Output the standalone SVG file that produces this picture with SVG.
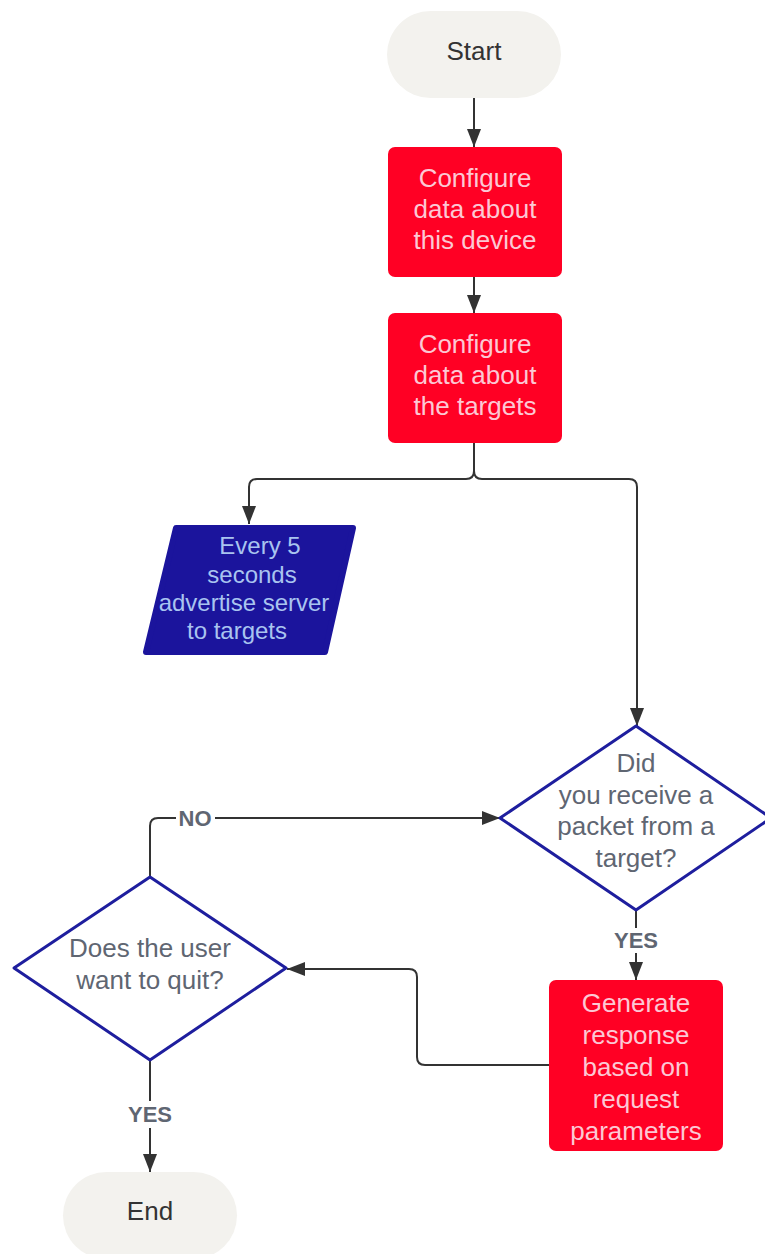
<svg xmlns="http://www.w3.org/2000/svg" width="765" height="1254" viewBox="0 0 765 1254">
<defs>
<style>
text{font-family:"Liberation Sans",Arial,sans-serif;text-anchor:middle}
.term{fill:#f3f2ee}
.termt{font-size:26px;fill:#333333}
.proc{fill:#ff0024}
.proct{font-size:26px;fill:#fcc8d4}
.io{fill:#1b149c;stroke:#1b149c;stroke-width:6;stroke-linejoin:round}
.iot{font-size:24px;fill:#a9c4f0}
.dec{fill:#ffffff;stroke:#1e1e9e;stroke-width:3;stroke-linejoin:round}
.dect{font-size:26px;fill:#5f6672}
.lbl{font-size:22px;font-weight:bold;fill:#5f6672}
.conn{fill:none;stroke:#333333;stroke-width:2}
</style>
<marker id="arr" viewBox="0 0 18 14" refX="18" refY="7" markerWidth="18" markerHeight="14" markerUnits="userSpaceOnUse" orient="auto">
<path d="M0,0 L18,7 L0,14 z" fill="#333333"/>
</marker>
</defs>
<g id="connectors">
<path class="conn" d="M474,98 V147" marker-end="url(#arr)"/>
<path class="conn" d="M474,277 V313" marker-end="url(#arr)"/>
<path class="conn" d="M474,443 V471 Q474,479 466,479 H257 Q249,479 249,487 V524" marker-end="url(#arr)"/>
<path class="conn" d="M474,471 Q474,479 482,479 H629 Q637,479 637,487 V726" marker-end="url(#arr)"/>
<path class="conn" d="M636,910 V928"/>
<path class="conn" d="M636,953 V980" marker-end="url(#arr)"/>
<path class="conn" d="M549,1065 H425 Q417,1065 417,1057 V977 Q417,969 409,969 H287" marker-end="url(#arr)"/>
<path class="conn" d="M150,877 V826 Q150,818 158,818 H176"/>
<path class="conn" d="M215,818 H500" marker-end="url(#arr)"/>
<path class="conn" d="M150,1060 V1101"/>
<path class="conn" d="M150,1128 V1172" marker-end="url(#arr)"/>
<text class="lbl" x="636" y="948">YES</text>
<text class="lbl" x="195" y="826">NO</text>
<text class="lbl" x="150" y="1122">YES</text>
</g>
<g id="start">
<rect class="term" x="387" y="11" width="174" height="87" rx="43.5"/>
<text class="termt" x="474" y="60">Start</text>
</g>
<g id="configure-device">
<rect class="proc" x="388" y="147" width="174" height="130" rx="7"/>
<text class="proct" x="475" y="187">Configure</text>
<text class="proct" x="475" y="218">data about</text>
<text class="proct" x="475" y="249">this device</text>
</g>
<g id="configure-targets">
<rect class="proc" x="388" y="313" width="174" height="130" rx="7"/>
<text class="proct" x="475" y="353">Configure</text>
<text class="proct" x="475" y="384">data about</text>
<text class="proct" x="475" y="415">the targets</text>
</g>
<g id="advertise">
<polygon class="io" points="176,528 353,528 325,652 146,652"/>
<text class="iot" x="260" y="554">Every 5</text>
<text class="iot" x="252" y="583">seconds</text>
<text class="iot" x="244" y="611">advertise server</text>
<text class="iot" x="237" y="639">to targets</text>
</g>
<g id="received-packet">
<polygon class="dec" points="636,726 771,818 636,910 500,818"/>
<text class="dect" x="636" y="772">Did</text>
<text class="dect" x="636" y="804">you receive a</text>
<text class="dect" x="636" y="835">packet from a</text>
<text class="dect" x="636" y="867">target?</text>
</g>
<g id="generate-response">
<rect class="proc" x="549" y="980" width="174" height="171" rx="7"/>
<text class="proct" x="636" y="1012">Generate</text>
<text class="proct" x="636" y="1044">response</text>
<text class="proct" x="636" y="1076">based on</text>
<text class="proct" x="636" y="1108">request</text>
<text class="proct" x="636" y="1140">parameters</text>
</g>
<g id="quit">
<polygon class="dec" points="150,877 286,968 150,1060 14,968"/>
<text class="dect" x="150" y="957">Does the user</text>
<text class="dect" x="150" y="989">want to quit?</text>
</g>
<g id="end">
<rect class="term" x="63" y="1172" width="174" height="87" rx="43.5"/>
<text class="termt" x="150" y="1220">End</text>
</g>
</svg>
